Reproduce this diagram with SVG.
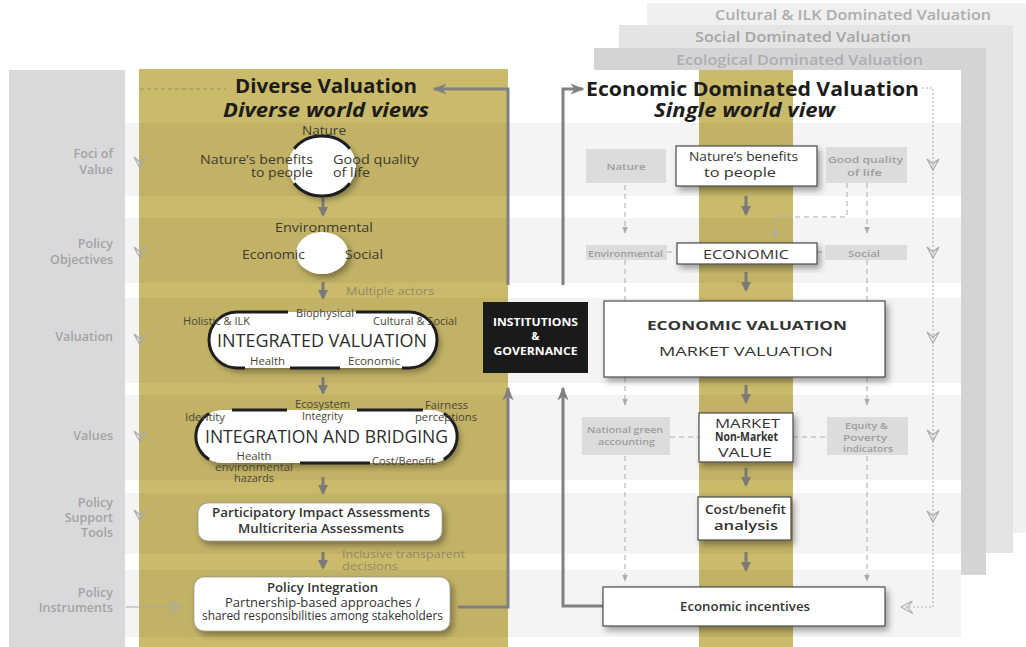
<svg xmlns="http://www.w3.org/2000/svg" width="1026" height="647" viewBox="0 0 1026 647">
<style>
text{font-family:"Open Sans","Liberation Sans",sans-serif}
.lab{font-size:12.5px;font-weight:600;fill:#a3a3a3;text-anchor:end}
.gt{font-size:12.5px;fill:#3e3b30}
.gs{font-size:10px;fill:#4a4636}
.mut{font-size:11px;fill:#918966}
.big{font-size:18px;fill:#2e2e2e;text-anchor:middle}
.hd{font-weight:700;fill:#1c1c1c}
.wb{fill:#fff;filter:url(#sh)}
.bx{fill:#fff;stroke:#4a4a4a;stroke-width:1.2;filter:url(#sh)}
.gb{fill:#dcdcdc}
.gbt{font-size:9px;font-weight:600;fill:#9d9d9d;text-anchor:middle}
.bt{font-size:13px;fill:#333;text-anchor:middle}
.seg{fill:none;stroke:#1e1e1e;stroke-width:3}
.conn{fill:none;stroke:#808080;stroke-width:3}
.arr{fill:none;stroke:#7a7a7a;stroke-width:3}
.dash{fill:none;stroke:#aaa;stroke-width:1;stroke-dasharray:5 4}
.dot{fill:none;stroke:#b3b3b3;stroke-width:1.2;stroke-dasharray:2 2}
.chev{fill:none;stroke:#aaa;stroke-width:1.2}
.band{fill:#000;opacity:0.045}
.stk{font-size:15px;font-weight:600;text-anchor:middle}
.inst{fill:#fff;font-size:10.5px;font-weight:700;text-anchor:middle}
</style>
<defs>
<filter id="sh" x="-20%" y="-30%" width="150%" height="170%">
<feDropShadow dx="3" dy="4" stdDeviation="3" flood-color="#000" flood-opacity="0.35"/>
</filter>
<marker id="ah" viewBox="0 0 10 10" refX="8" refY="5" markerWidth="10" markerHeight="10" markerUnits="userSpaceOnUse" orient="auto">
<path d="M0,0 L10,5 L0,10 Z" fill="#7a7a7a"/>
</marker>
<marker id="bh" viewBox="0 0 10 10" refX="9" refY="5" markerWidth="14" markerHeight="14" markerUnits="userSpaceOnUse" orient="auto">
<path d="M0,1 L10,5 L0,9 L3,5 Z" fill="#808080"/>
</marker>
<marker id="dh" viewBox="0 0 10 10" refX="9" refY="5" markerWidth="7" markerHeight="7" markerUnits="userSpaceOnUse" orient="auto">
<path d="M0,1 L10,5 L0,9 Z" fill="#aaa"/>
</marker>
<marker id="oh" viewBox="0 0 12 12" refX="11" refY="6" markerWidth="13" markerHeight="13" markerUnits="userSpaceOnUse" orient="auto">
<path d="M0,0 L11,6 L0,12 L5,6 Z" fill="none" stroke="#aaa" stroke-width="1"/>
</marker>
<path id="chev" d="M-6,-6 L0,5 L6,-6 L0,-1 Z"/>
</defs>

<!-- stacked background panels -->
<g id="panel-cultural">
<rect x="647" y="3" width="400" height="530" fill="#f0f0f0"/>
<text x="853" y="20" class="stk" fill="#acacac" textLength="276" lengthAdjust="spacingAndGlyphs">Cultural &amp; ILK Dominated Valuation</text>
</g>
<g id="panel-social">
<rect x="619" y="25" width="394" height="528" fill="#e4e4e5"/>
<text x="803" y="42" class="stk" fill="#a4a4a4" textLength="216" lengthAdjust="spacingAndGlyphs">Social Dominated Valuation</text>
</g>
<g id="panel-ecological">
<rect x="594" y="48" width="392" height="527" fill="#d4d4d6"/>
<text x="799.5" y="65" class="stk" fill="#adadaf" textLength="247" lengthAdjust="spacingAndGlyphs">Ecological Dominated Valuation</text>
</g>
<rect x="515" y="70" width="446" height="577" fill="#fff"/>

<!-- left label column -->
<g id="label-column">
<rect x="9" y="70" width="116" height="577" fill="#d9d9db"/>
<text class="lab" x="113" y="158">Foci of</text>
<text class="lab" x="113" y="174">Value</text>
<text class="lab" x="113" y="248">Policy</text>
<text class="lab" x="113" y="264">Objectives</text>
<text class="lab" x="113" y="341">Valuation</text>
<text class="lab" x="113" y="440">Values</text>
<text class="lab" x="113" y="507">Policy</text>
<text class="lab" x="113" y="522">Support</text>
<text class="lab" x="113" y="537">Tools</text>
<text class="lab" x="113" y="597">Policy</text>
<text class="lab" x="113" y="612">Instruments</text>
</g>

<!-- gold panels -->
<rect x="139" y="69" width="369" height="578" fill="#cabb6b"/>
<rect x="699" y="70" width="94" height="577" fill="#cabb6b"/>

<!-- row bands -->
<g id="bands">
<rect class="band" x="125" y="123" width="836" height="73"/>
<rect class="band" x="125" y="218" width="836" height="65"/>
<rect class="band" x="125" y="298" width="836" height="85"/>
<rect class="band" x="125" y="395" width="836" height="85"/>
<rect class="band" x="125" y="493" width="836" height="61"/>
<rect class="band" x="125" y="570" width="836" height="67"/>
</g>

<!-- headings -->
<g id="diverse-heading">
<text class="hd" x="326" y="93" font-size="19px" text-anchor="middle" textLength="182" lengthAdjust="spacingAndGlyphs">Diverse Valuation</text>
<text class="hd" x="326" y="117" font-size="19px" text-anchor="middle" font-style="italic" textLength="206" lengthAdjust="spacingAndGlyphs">Diverse world views</text>
</g>
<g id="economic-heading">
<text class="hd" x="586" y="96" font-size="20px" textLength="333" lengthAdjust="spacingAndGlyphs">Economic Dominated Valuation</text>
<text class="hd" x="744.5" y="117" font-size="19px" text-anchor="middle" font-style="italic" textLength="181" lengthAdjust="spacingAndGlyphs">Single world view</text>
</g>

<!-- connectors -->
<g id="connectors">
<path class="conn" d="M458 607 H508 V388" marker-end="url(#bh)"/>
<path class="conn" d="M508 285 V89 H434" marker-end="url(#bh)"/>
<path class="conn" d="M603 606 H563 V388" marker-end="url(#bh)"/>
<path class="conn" d="M563 285 V89 H583" marker-end="url(#bh)"/>
<path d="M140 89 H226" fill="none" stroke="#9a9060" stroke-width="1" stroke-dasharray="4 3"/>
<path class="arr" d="M323 198 V215" marker-end="url(#ah)"/>
<path class="arr" d="M323 282 V298" marker-end="url(#ah)"/>
<path class="arr" d="M323 377 V393" marker-end="url(#ah)"/>
<path class="arr" d="M323 477 V493" marker-end="url(#ah)"/>
<path class="arr" d="M323 552 V568" marker-end="url(#ah)"/>
<path class="arr" d="M746 196 V214" marker-end="url(#ah)"/>
<path class="arr" d="M746 272 V290" marker-end="url(#ah)"/>
<path class="arr" d="M746 385 V402" marker-end="url(#ah)"/>
<path class="arr" d="M746 468 V485" marker-end="url(#ah)"/>
<path class="arr" d="M746 552 V570" marker-end="url(#ah)"/>
<path class="dash" d="M625 185 V233" marker-end="url(#dh)"/>
<path class="dash" d="M625 260 V301"/>
<path class="dash" d="M625 377 V405" marker-end="url(#dh)"/>
<path class="dash" d="M625 456 V581" marker-end="url(#dh)"/>
<path class="dash" d="M867 183 V233" marker-end="url(#dh)"/>
<path class="dash" d="M867 260 V301"/>
<path class="dash" d="M867 377 V405" marker-end="url(#dh)"/>
<path class="dash" d="M867 456 V581" marker-end="url(#dh)"/>
<path class="dash" d="M847 183 V217 H775 V237" marker-end="url(#dh)"/>
<path class="dash" d="M667 252 H677 M817 252 H825 M670 437 H699 M793 437 H827" stroke-dasharray="3 3"/>
<path class="dot" d="M922 88 H933 V607 H901" marker-end="url(#oh)"/>
<g class="chev">
<use href="#chev" x="933" y="165"/>
<use href="#chev" x="933" y="253"/>
<use href="#chev" x="933" y="338"/>
<use href="#chev" x="933" y="436"/>
<use href="#chev" x="933" y="517"/>
<use href="#chev" x="140" y="163"/>
<use href="#chev" x="140" y="253"/>
<use href="#chev" x="140" y="340"/>
<use href="#chev" x="140" y="437"/>
<use href="#chev" x="140" y="516"/>
</g>
<path d="M126 607 H181" fill="none" stroke="#a8a8a8" stroke-width="1" marker-end="url(#oh)"/>
</g>

<!-- left (diverse) nodes -->
<g id="foci-circle">
<ellipse class="wb" cx="322" cy="166" rx="34" ry="30"/>
<path class="seg" stroke-width="2.5" d="M294.2 148.8 A34 30 0 0 1 349.8 148.8 M349.8 183.2 A34 30 0 0 1 294.2 183.2"/>
<text class="gt" x="324" y="135" text-anchor="middle" textLength="44" lengthAdjust="spacingAndGlyphs">Nature</text>
<text class="gt" x="313" y="164" text-anchor="end" textLength="113" lengthAdjust="spacingAndGlyphs">Nature’s benefits</text>
<text class="gt" x="313" y="177" text-anchor="end" textLength="62" lengthAdjust="spacingAndGlyphs">to people</text>
<text class="gt" x="333" y="164" textLength="86" lengthAdjust="spacingAndGlyphs">Good quality</text>
<text class="gt" x="333" y="177" textLength="37" lengthAdjust="spacingAndGlyphs">of life</text>
</g>
<g id="objectives-circle">
<ellipse class="wb" cx="322" cy="253" rx="26" ry="21"/>
<text class="gt" x="324" y="232" text-anchor="middle" textLength="98" lengthAdjust="spacingAndGlyphs">Environmental</text>
<text class="gt" x="305" y="259" text-anchor="end" textLength="63" lengthAdjust="spacingAndGlyphs">Economic</text>
<text class="gt" x="345" y="259" textLength="38" lengthAdjust="spacingAndGlyphs">Social</text>
<text class="mut" x="346" y="295" font-size="12px" textLength="88" lengthAdjust="spacingAndGlyphs">Multiple actors</text>
</g>
<g id="integrated-valuation">
<rect class="wb" x="209" y="312" width="228" height="56" rx="28"/>
<path class="seg" d="M288 312 H237 A28 28 0 0 0 237 368 H245 M356 312 H409 A28 28 0 0 1 409 368 H402 M290 368 H340"/>
<text class="big" x="322" y="347" textLength="210" lengthAdjust="spacingAndGlyphs">INTEGRATED VALUATION</text>
<text class="gs" x="183" y="325" textLength="67" lengthAdjust="spacingAndGlyphs">Holistic &amp; ILK</text>
<text class="gs" x="325" y="317" text-anchor="middle" textLength="58" lengthAdjust="spacingAndGlyphs">Biophysical</text>
<text class="gs" x="373" y="325" textLength="84" lengthAdjust="spacingAndGlyphs">Cultural &amp; Social</text>
<text class="gs" x="250" y="365" textLength="35" lengthAdjust="spacingAndGlyphs">Health</text>
<text class="gs" x="348" y="365" textLength="52" lengthAdjust="spacingAndGlyphs">Economic</text>
</g>
<g id="integration-bridging">
<rect class="wb" x="196" y="410" width="261" height="53" rx="26.5"/>
<path class="seg" d="M232 410 H287 M357 410 H423 M300 463 H370 M209.2 413.5 A26.5 26.5 0 0 0 209.2 459.5 M443.8 413.5 A26.5 26.5 0 0 1 443.8 459.5"/>
<text class="big" x="326.5" y="443" textLength="243" lengthAdjust="spacingAndGlyphs">INTEGRATION AND BRIDGING</text>
<text class="gs" x="322.5" y="408" text-anchor="middle" textLength="55" lengthAdjust="spacingAndGlyphs">Ecosystem</text>
<text class="gs" x="322.5" y="420" text-anchor="middle" textLength="41" lengthAdjust="spacingAndGlyphs">Integrity</text>
<text class="gs" x="185" y="421" textLength="40" lengthAdjust="spacingAndGlyphs">Identity</text>
<text class="gs" x="446.5" y="409" text-anchor="middle" textLength="43" lengthAdjust="spacingAndGlyphs">Fairness</text>
<text class="gs" x="446" y="421" text-anchor="middle" textLength="62" lengthAdjust="spacingAndGlyphs">perceptions</text>
<text class="gs" x="254" y="460" text-anchor="middle" textLength="35" lengthAdjust="spacingAndGlyphs">Health</text>
<text class="gs" x="254" y="471" text-anchor="middle" textLength="78" lengthAdjust="spacingAndGlyphs">environmental</text>
<text class="gs" x="254" y="482" text-anchor="middle" textLength="40" lengthAdjust="spacingAndGlyphs">hazards</text>
<text class="gs" x="372" y="465" textLength="63" lengthAdjust="spacingAndGlyphs">Cost/Benefit</text>
</g>
<g id="support-tools">
<rect class="wb" x="198" y="503" width="244" height="38" rx="10" stroke="#888" stroke-width="0.6"/>
<text class="bt" x="321" y="517" font-weight="600" textLength="218" lengthAdjust="spacingAndGlyphs">Participatory Impact Assessments</text>
<text class="bt" x="321" y="533" font-weight="600" textLength="166" lengthAdjust="spacingAndGlyphs">Multicriteria Assessments</text>
<text class="mut" x="342" y="558" textLength="123" lengthAdjust="spacingAndGlyphs">Inclusive transparent</text>
<text class="mut" x="342" y="570" textLength="56" lengthAdjust="spacingAndGlyphs">decisions</text>
</g>
<g id="policy-integration">
<rect class="wb" x="194" y="577" width="256" height="54" rx="10" stroke="#888" stroke-width="0.6"/>
<text class="bt" x="322.5" y="592" font-weight="600" textLength="111" lengthAdjust="spacingAndGlyphs">Policy Integration</text>
<text class="bt" x="322.5" y="607" font-size="10px" textLength="195" lengthAdjust="spacingAndGlyphs">Partnership-based approaches /</text>
<text class="bt" x="322.5" y="620" font-size="10px" textLength="241" lengthAdjust="spacingAndGlyphs">shared responsibilities among stakeholders</text>
</g>

<g id="institutions">
<rect x="483" y="302" width="105" height="71" fill="#1b1a1a"/>
<text class="inst" x="535.5" y="326" textLength="85" lengthAdjust="spacingAndGlyphs">INSTITUTIONS</text>
<text class="inst" x="535.5" y="340">&amp;</text>
<text class="inst" x="535.5" y="355" textLength="84" lengthAdjust="spacingAndGlyphs">GOVERNANCE</text>
</g>

<!-- right (economic) nodes -->
<g id="e-nature"><rect class="gb" x="586" y="149" width="80" height="34"/><text class="gbt" x="626" y="170" font-size="10px" textLength="39" lengthAdjust="spacingAndGlyphs">Nature</text></g>
<g id="e-benefits"><rect class="bx" x="676" y="146" width="141" height="40"/>
<text class="bt" x="743.5" y="161" font-size="12.5px" textLength="109" lengthAdjust="spacingAndGlyphs">Nature’s benefits</text><text class="bt" x="740" y="177" font-size="12.5px" textLength="72" lengthAdjust="spacingAndGlyphs">to people</text></g>
<g id="e-quality"><rect class="gb" x="826" y="147" width="81" height="36"/>
<text class="gbt" x="865.5" y="163" font-size="10px" textLength="75" lengthAdjust="spacingAndGlyphs">Good quality</text><text class="gbt" x="864.5" y="176" font-size="10px" textLength="35" lengthAdjust="spacingAndGlyphs">of life</text></g>

<g id="e-environmental"><rect class="gb" x="586" y="245" width="81" height="15"/><text class="gbt" x="625.5" y="256.5" font-size="8.5px" textLength="75" lengthAdjust="spacingAndGlyphs">Environmental</text></g>
<g id="e-economic"><rect class="bx" x="677" y="243" width="140" height="21"/><text class="bt" x="746" y="259" font-size="16px" textLength="86" lengthAdjust="spacingAndGlyphs">ECONOMIC</text></g>
<g id="e-social"><rect class="gb" x="825" y="245" width="82" height="15"/><text class="gbt" x="864" y="256.5" font-size="8.5px" textLength="32" lengthAdjust="spacingAndGlyphs">Social</text></g>

<g id="e-valuation"><rect class="bx" x="604" y="301" width="281" height="76"/>
<text class="bt" x="747" y="330" font-size="16.5px" font-weight="700" textLength="200" lengthAdjust="spacingAndGlyphs">ECONOMIC VALUATION</text>
<text class="bt" x="746" y="356" font-size="17px" textLength="174" lengthAdjust="spacingAndGlyphs">MARKET VALUATION</text></g>

<g id="e-green"><rect class="gb" x="582" y="417" width="88" height="38"/>
<text class="gbt" x="625" y="433" textLength="76" lengthAdjust="spacingAndGlyphs">National green</text><text class="gbt" x="626.5" y="445" textLength="57" lengthAdjust="spacingAndGlyphs">accounting</text></g>
<g id="e-value"><rect class="bx" x="699" y="413" width="94" height="49"/>
<text class="bt" x="747.5" y="428" font-size="15px" textLength="65" lengthAdjust="spacingAndGlyphs">MARKET</text>
<text class="bt" x="746.5" y="441" font-size="9px" font-weight="700" textLength="63" lengthAdjust="spacingAndGlyphs">Non-Market</text>
<text class="bt" x="745" y="457" font-size="15px" textLength="54" lengthAdjust="spacingAndGlyphs">VALUE</text></g>
<g id="e-equity"><rect class="gb" x="827" y="417" width="81" height="38"/>
<text class="gbt" x="866.5" y="429" font-size="8.5px" textLength="43" lengthAdjust="spacingAndGlyphs">Equity &amp;</text><text class="gbt" x="865" y="441" font-size="8.5px" textLength="44" lengthAdjust="spacingAndGlyphs">Poverty</text><text class="gbt" x="868" y="452" font-size="8.5px" textLength="50" lengthAdjust="spacingAndGlyphs">indicators</text></g>

<g id="e-costbenefit"><rect class="bx" x="698" y="497" width="93" height="43"/>
<text class="bt" x="745.5" y="514" font-size="13px" font-weight="600" textLength="81" lengthAdjust="spacingAndGlyphs">Cost/benefit</text>
<text class="bt" x="746" y="530" font-size="13px" font-weight="600" textLength="64" lengthAdjust="spacingAndGlyphs">analysis</text></g>

<g id="e-incentives"><rect class="bx" x="603" y="587" width="282" height="39"/>
<text class="bt" x="745" y="611" font-size="12px" font-weight="600" textLength="130" lengthAdjust="spacingAndGlyphs">Economic incentives</text></g>
</svg>
